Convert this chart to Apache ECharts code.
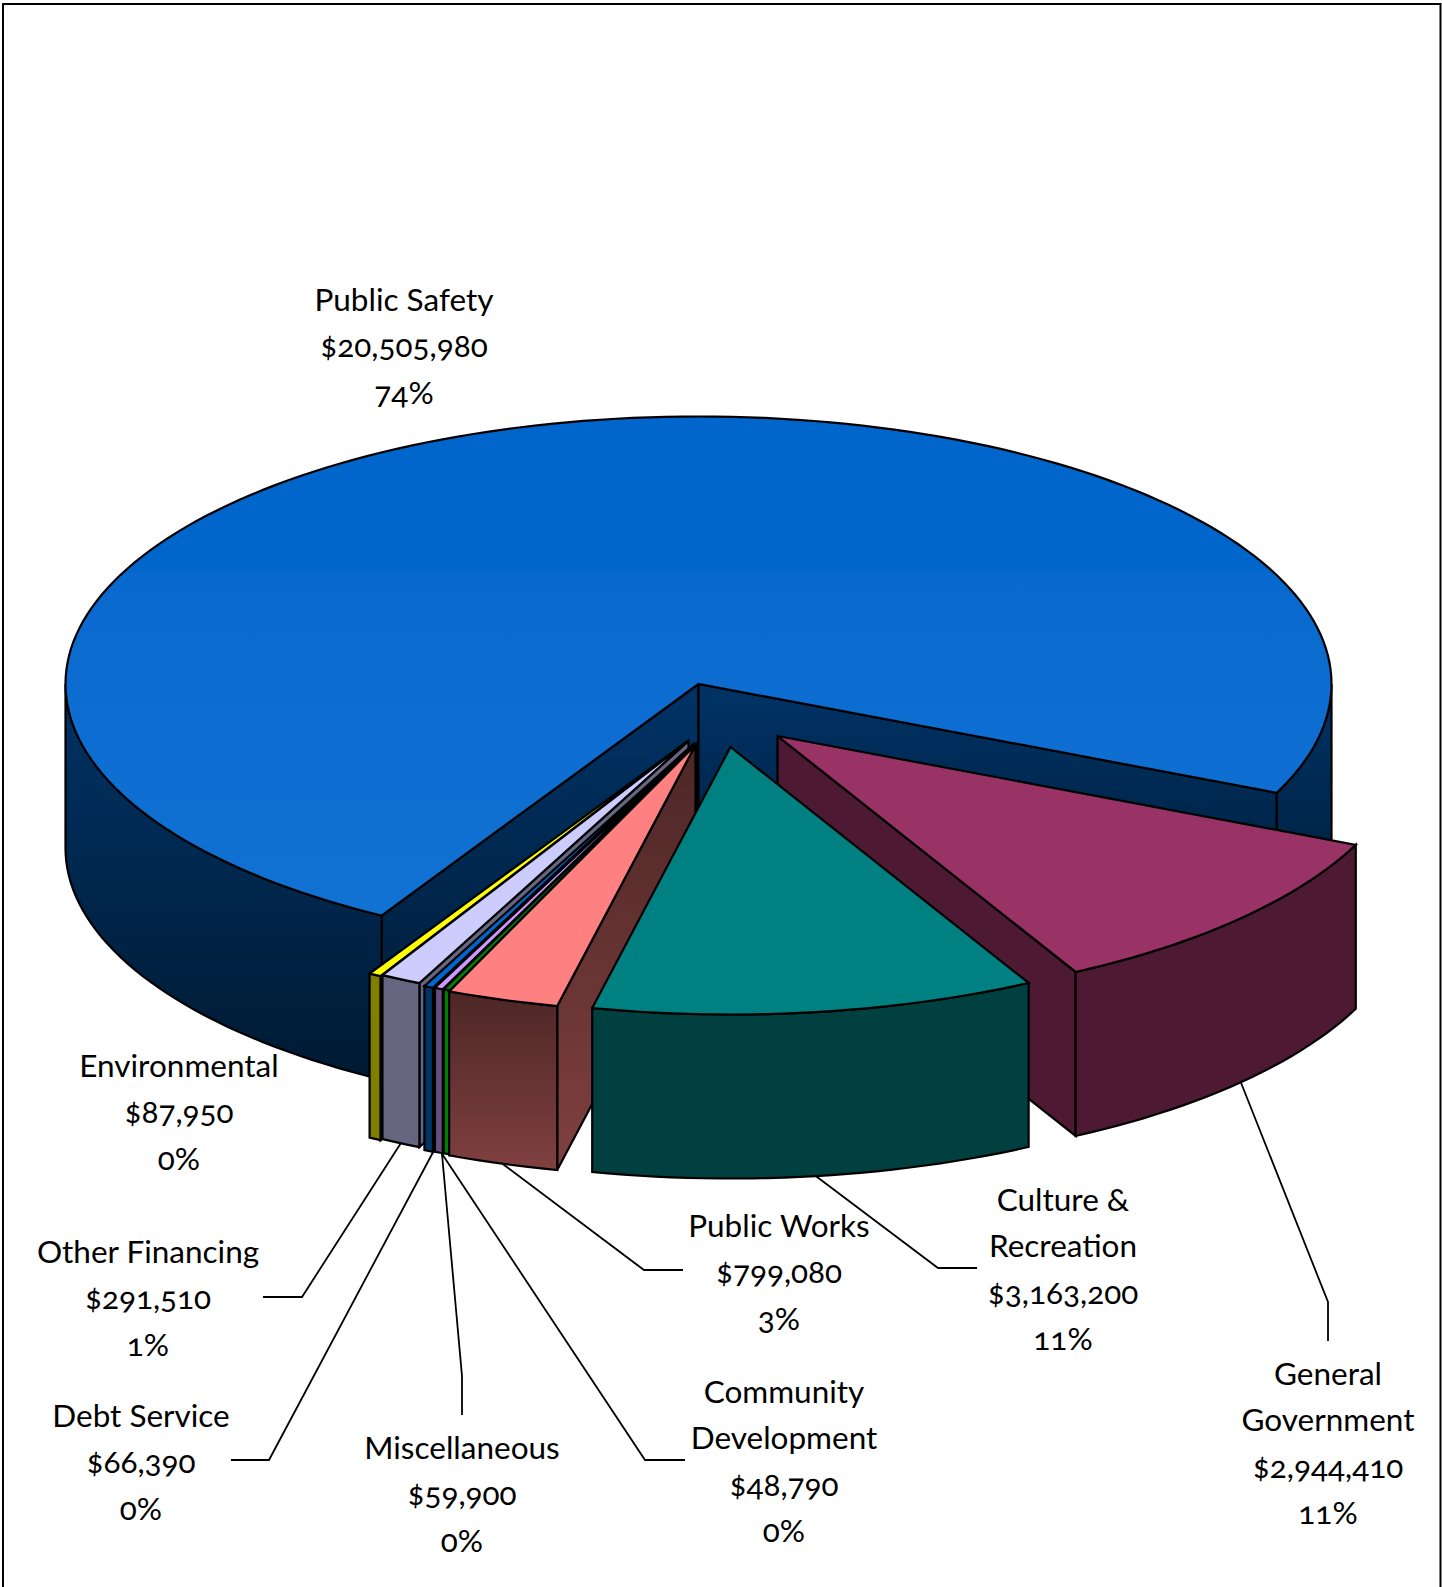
<!DOCTYPE html>
<html>
<head>
<meta charset="utf-8">
<title>Expenditures by function</title>
<script src="https://cdn.jsdelivr.net/npm/echarts@6/dist/echarts.min.js"></script>
<style>
  html, body { margin: 0; padding: 0; background: #fff; }
  #chart { width: 1442px; height: 1587px; }
  #chart text { font-variant-numeric: oldstyle-nums !important; font-feature-settings: "onum" 1 !important; }
</style>
</head>
<body>
<div id="chart"></div>
<script>
// Budget figures, listed clockwise from the General Government slice.
const categories = ['General Government', 'Culture & Recreation', 'Public Works', 'Community Development',
  'Miscellaneous', 'Debt Service', 'Other Financing', 'Environmental', 'Public Safety'];
const amounts = [2944410, 3163200, 799080, 48790, 59900, 66390, 291510, 87950, 20505980];
const amountLabels = ['$2,944,410', '$3,163,200', '$799,080', '$48,790', '$59,900', '$66,390', '$291,510', '$87,950', '$20,505,980'];
const percentLabels = ['11%', '11%', '3%', '0%', '0%', '0%', '1%', '0%', '74%'];

// Text wrapping of the category names.
const nameLines = [['General', 'Government'], ['Culture &', 'Recreation'], ['Public Works'], ['Community', 'Development'],
  ['Miscellaneous'], ['Debt Service'], ['Other Financing'], ['Environmental'], ['Public Safety']];

// Pie geometry on the page.
const CX = 698.5, CY = 684, RX = 633, RY = 267.5, DEPTH = 164, START_ANGLE = 24;

// How far each slice is pulled out of the pie, in pixels.
const sliceShift = [[79, 52], [32, 63], [-3, 61], [-2, 60], [-3, 60], [-5, 60], [-10, 57], [-12, 58], [0, 0]];

// Top face and wall fills per slice.
const vGrad = (a, b) => ({ type: 'linear', x: 0, y: 0, x2: 0, y2: 1, colorStops: [{ offset: 0, color: a }, { offset: 1, color: b }] });
const topFills = ['#993366', '#008080', '#FF8080', '#008000', '#CC99FF', '#0066CC', '#CCCCFF', '#FFFF00',
  { type: 'linear', x: 0, y: 0, x2: 0, y2: 1, colorStops: [{ offset: 0, color: '#0066CC' }, { offset: 0.3, color: '#0066CC' }, { offset: 0.32, color: '#0A69CE' }, { offset: 1, color: '#1272D3' }] }];
const wallFills = ['#4D1933', '#004040', vGrad('#4D2626', '#804040'), '#008000', '#664D80', '#003366', '#666680', '#808000', vGrad('#003366', '#001A33')];

// Paint order, back to front.
const paintOrder = [8, 0, 7, 6, 5, 4, 3, 2, 1];

// Label anchor (centre x, first line y) and leader bends for each slice.
const labelAnchors = [[1328, 1373], [1063, 1199], [779, 1225], [784, 1391], [462, 1447], [141, 1415], [148, 1251], [179, 1065], [404, 299]];
const leaderBends = [
  [[1328, 1302], [1328, 1341]],
  [[938, 1268], [977, 1268]],
  [[644, 1270], [683, 1270]],
  [[645, 1460], [685, 1460]],
  [[462, 1376], [462, 1415]],
  [[269, 1460], [231, 1460]],
  [[302, 1297], [263, 1297]],
  null,
  null
];
// Sideways nudge of a leader's start so the tightly packed lines fan out cleanly.
const leaderNudge = [0, 0, 0, -5, 3, 5, 0, 0, 0];
const LINE_HEIGHT = 46.4;
const LABEL_FONT = 'Lato';
const LABEL_SIZE = 31.5;

// Cumulative start and end angles, in degrees, derived from the amounts.
const total = amounts.reduce((a, b) => a + b, 0);
const spans = [];
amounts.reduce((acc, v) => {
  const end = acc + v / total * 360;
  spans.push([acc, end]);
  return end;
}, START_ANGLE);

const rad = d => d * Math.PI / 180;
const rimPoint = (t, s, drop) => [CX + s[0] + RX * Math.cos(rad(t)), CY + s[1] + drop + RY * Math.sin(rad(t))];
const rimArc = (a, b, s, drop) => {
  const pts = [];
  const n = Math.max(2, Math.ceil((b - a) / 1.5));
  for (let i = 0; i <= n; i++) pts.push(rimPoint(a + (b - a) * i / n, s, drop));
  return pts;
};
// Parts of [a, b] facing the viewer, where the rim runs along the front of the ellipse.
const frontRanges = (a, b) => {
  const out = [];
  for (let k = -1; k <= 2; k++) {
    const lo = Math.max(a, 360 * k), hi = Math.min(b, 360 * k + 180);
    if (hi > lo) out.push([lo, hi]);
  }
  return out;
};
const edge = { stroke: '#000', lineWidth: 2.2, lineJoin: 'miter' };
const poly = (points, fill) => ({ type: 'polygon', shape: { points }, style: Object.assign({ fill }, edge), silent: true });

function renderSlice(params, api) {
  const i = api.value(0);
  const [a, b] = spans[i];
  const s = sliceShift[i];
  const apex = [CX + s[0], CY + s[1]];
  const apexLow = [apex[0], apex[1] + DEPTH];
  const children = [];
  const wallAt = t => {
    const p = rimPoint(t, s, 0), q = rimPoint(t, s, DEPTH);
    return poly([apex, p, q, apexLow], wallFills[i]);
  };
  const norm = t => ((t % 360) + 360) % 360;
  if (norm(a) > 90 && norm(a) < 270) children.push(wallAt(a));
  if (norm(b) < 90 || norm(b) > 270) children.push(wallAt(b));
  frontRanges(a, b).forEach(([lo, hi]) => {
    children.push(poly(rimArc(lo, hi, s, 0).concat(rimArc(lo, hi, s, DEPTH).reverse()), wallFills[i]));
  });
  children.push(poly([apex].concat(rimArc(a, b, s, 0)), topFills[i]));
  return { type: 'group', children };
}

function renderLabel(params, api) {
  const i = api.value(0);
  const [x, y0] = labelAnchors[i];
  const lines = nameLines[i].concat([amountLabels[i], percentLabels[i]]);
  const children = lines.map((text, k) => ({
    type: 'text', silent: true,
    style: { text, x, y: y0 + k * LINE_HEIGHT, fill: '#000', textAlign: 'center', textVerticalAlign: 'middle',
      fontFamily: LABEL_FONT, fontSize: LABEL_SIZE }
  }));
  if (leaderBends[i]) {
    const mid = (spans[i][0] + spans[i][1]) / 2;
    const start = rimPoint(mid, sliceShift[i], DEPTH);
    start[0] += leaderNudge[i];
    children.push({
      type: 'polyline', silent: true,
      shape: { points: [start].concat(leaderBends[i]) },
      style: { fill: 'none', stroke: '#000', lineWidth: 1.8 }
    });
  }
  return { type: 'group', children };
}

const chart = echarts.init(document.getElementById('chart'), null, { renderer: 'svg' });
chart.setOption({
  animation: false,
  backgroundColor: '#fff',
  graphic: [{
    type: 'rect', silent: true, z: 20,
    shape: { x: 3, y: 4, width: 1437.5, height: 1640 },
    style: { fill: 'none', stroke: '#000', lineWidth: 2 }
  }],
  series: [
    {
      type: 'custom', name: 'Slices', coordinateSystem: 'none', z: 2,
      encode: { itemName: 2 },
      data: paintOrder.map(i => [i, amounts[i], categories[i]]),
      renderItem: renderSlice
    },
    {
      type: 'custom', name: 'Labels', coordinateSystem: 'none', z: 1,
      data: paintOrder.map(i => [i, amounts[i], categories[i]]),
      renderItem: renderLabel
    }
  ]
});
</script>
</body>
</html>
